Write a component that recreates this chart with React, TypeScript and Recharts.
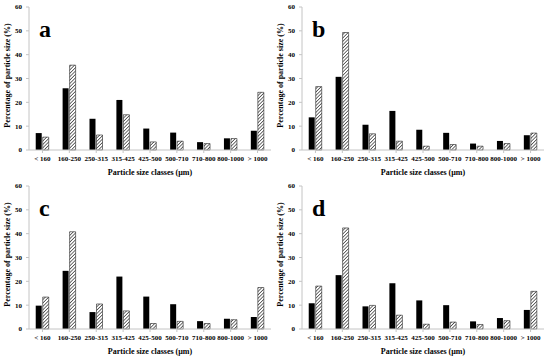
import React from 'react';
import { Bar, BarChart, XAxis, YAxis } from 'recharts';

const categories = ['< 160', '160-250', '250-315', '315-425', '425-500', '500-710', '710-800', '800-1000', '> 1000'];
const yTicks = [0, 10, 20, 30, 40, 50, 60];

const aSolid = [7.1, 25.9, 13.1, 21.0, 9.0, 7.3, 3.3, 4.9, 8.1];
const aHatched = [5.4, 35.6, 6.3, 14.8, 3.4, 3.7, 2.7, 4.8, 24.2];
const bSolid = [13.7, 30.7, 10.6, 16.4, 8.5, 7.2, 2.7, 3.8, 6.2];
const bHatched = [26.6, 49.3, 6.8, 3.7, 1.6, 2.3, 1.6, 2.7, 7.1];
const cSolid = [9.8, 24.4, 7.1, 22.0, 13.6, 10.4, 3.3, 4.3, 5.0];
const cHatched = [13.4, 40.8, 10.5, 7.6, 2.3, 3.2, 2.3, 3.9, 17.4];
const dSolid = [10.8, 22.6, 9.5, 19.2, 12.0, 10.0, 3.2, 4.6, 8.0];
const dHatched = [18.0, 42.4, 9.9, 5.8, 2.0, 2.9, 1.9, 3.5, 15.8];

const font = '"Liberation Serif", "DejaVu Serif", serif';
const grey = '#c4c4c4';

const panels = [
  { id: 'a', left: 0, top: 0, axisW: 29, right: 4, solid: aSolid, hatched: aHatched },
  { id: 'b', left: 275, top: 0, axisW: 27, right: 6, solid: bSolid, hatched: bHatched },
  { id: 'c', left: 0, top: 179, axisW: 29, right: 4, solid: cSolid, hatched: cHatched },
  { id: 'd', left: 275, top: 179, axisW: 27, right: 6, solid: dSolid, hatched: dHatched },
];

const yTitle = (props: any) => {
  const vb = props.viewBox || { x: 0, y: 7, width: 29, height: 143 };
  const cx = vb.x + vb.width - 22;
  const cy = vb.y + vb.height / 2 - 3;
  return (
    <text
      x={cx}
      y={cy}
      transform={`rotate(-90, ${cx}, ${cy})`}
      textAnchor="middle"
      dominantBaseline="central"
      fontFamily={font}
      fontWeight="bold"
      fontSize={8}
      fill="#000"
    >
      Percentage of particle size (%)
    </text>
  );
};

const xTitle = (props: any) => {
  const vb = props.viewBox || { x: 29, y: 150, width: 242, height: 30 };
  return (
    <text
      x={vb.x + vb.width / 2}
      y={vb.y + 22}
      textAnchor="middle"
      dominantBaseline="central"
      fontFamily={font}
      fontWeight="bold"
      fontSize={8}
      fill="#000"
    >
      Particle size classes (µm)
    </text>
  );
};

function Panel({ id, left, top, axisW, right, solid, hatched }: any) {
  const data = categories.map((cat, i) => ({ cat, solid: solid[i], hatched: hatched[i] }));
  const tickStyle = { fontFamily: font, fontWeight: 'bold', fontSize: 7, fill: '#000' };
  return (
    <div style={{ position: 'absolute', left, top, width: 275, height: 180 }}>
      <BarChart
        width={275}
        height={180}
        data={data}
        margin={{ top: 7, right, left: 0, bottom: 0 }}
        barCategoryGap="25%"
        barGap={1}
      >
        <defs>
          <pattern id={`hatch-${id}`} patternUnits="userSpaceOnUse" width={2.4} height={2.4} patternTransform="rotate(45)">
            <rect width={2.4} height={2.4} fill="#fff" />
            <line x1={0} y1={0} x2={0} y2={2.4} stroke="#111" strokeWidth={1.2} />
          </pattern>
        </defs>
        <XAxis
          dataKey="cat"
          height={30}
          interval={0}
          stroke={grey}
          tickSize={3}
          tickMargin={3}
          tick={tickStyle}
          label={{ content: xTitle }}
        />
        <XAxis xAxisId="top" dataKey="cat" orientation="top" height={0} tick={false} tickLine={false} stroke={grey} />
        <YAxis
          domain={[0, 60]}
          ticks={yTicks}
          width={axisW}
          stroke={grey}
          tickSize={3}
          tickMargin={4}
          tick={tickStyle}
          label={{ content: yTitle }}
        />
        <YAxis yAxisId="right" orientation="right" domain={[0, 60]} width={0} tick={false} tickLine={false} stroke={grey} />
        <Bar dataKey="solid" fill="#000" isAnimationActive={false} />
        <Bar dataKey="hatched" fill={`url(#hatch-${id})`} stroke="#222" strokeWidth={0.6} isAnimationActive={false} />
      </BarChart>
      <div
        style={{
          position: 'absolute',
          left: axisW + 10,
          top: 18,
          fontFamily: font,
          fontWeight: 'bold',
          fontSize: 24,
          lineHeight: '22px',
          color: '#000',
        }}
      >
        {id}
      </div>
    </div>
  );
}

export default function App() {
  return (
    <div style={{ position: 'absolute', left: 0, top: 0, width: 550, height: 359, background: '#fff' }}>
      {panels.map((p) => (
        <Panel key={p.id} {...p} />
      ))}
    </div>
  );
}
